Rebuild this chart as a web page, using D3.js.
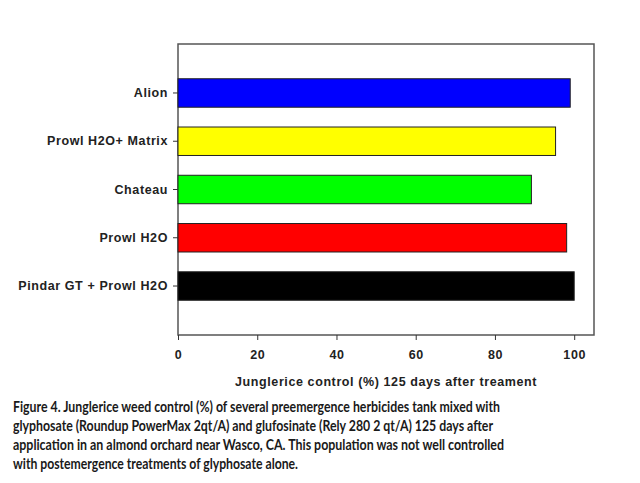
<!DOCTYPE html>
<html><head><meta charset="utf-8">
<script src="https://cdn.jsdelivr.net/npm/d3@7"></script>
<style>body{margin:0;background:#fff}svg{display:block}</style>
</head><body>
<script>
const categories = ["Alion", "Prowl H2O+ Matrix", "Chateau", "Prowl H2O", "Pindar GT  + Prowl H2O"];
const values = [99, 95.3, 89.2, 98.1, 100];
const colors = ["#0000ff", "#ffff00", "#00ff00", "#ff0000", "#000000"];
const xTicks = [0, 20, 40, 60, 80, 100];
const xTitle = "Junglerice control (%) 125 days after treament";
const captionLines = [
  "Figure 4. Junglerice weed control (%) of several preemergence herbicides tank mixed with",
  "glyphosate (Roundup PowerMax 2qt/A) and glufosinate (Rely 280 2 qt/A) 125 days after",
  "application in an almond orchard near Wasco, CA. This population was not well controlled",
  "with postemergence treatments of glyphosate alone."
];
const captionWidths = [487, 480, 491, 285];

const W = 640, H = 483;
const svg = d3.select("body").append("svg").attr("width", W).attr("height", H);
const L = 178, R = 594, T = 44, B = 335;
const x = d3.scaleLinear().domain([0, 105]).range([L, R]);
const y = d3.scaleBand().domain(categories).range([T, B]).paddingInner(0.41).paddingOuter(0.72);

// frame
svg.append("rect").attr("x", L).attr("y", T).attr("width", R - L).attr("height", B - T)
  .attr("fill", "none").attr("stroke", "#555").attr("stroke-width", 1.5);

svg.selectAll("rect.bar").data(categories).enter().append("rect").attr("class", "bar")
  .attr("x", x(0)).attr("y", d => y(d))
  .attr("width", (d, i) => x(values[i]) - x(0)).attr("height", y.bandwidth())
  .attr("fill", (d, i) => colors[i]).attr("stroke", "#222").attr("stroke-width", 1);

const fontAx = "Arial, 'Liberation Sans', sans-serif";
function styleText(sel) {
  sel.attr("font-family", fontAx).attr("font-size", 12.5).attr("font-weight", "bold")
    .attr("fill", "#222").attr("letter-spacing", 0.6);
}
const yAxis = svg.append("g").attr("transform", `translate(${L},0)`)
  .call(d3.axisLeft(y).tickSize(5).tickPadding(5));
yAxis.select(".domain").remove();
yAxis.selectAll("line").attr("stroke", "#333");
yAxis.selectAll("text").call(styleText);

const xAxis = svg.append("g").attr("transform", `translate(0,${B})`)
  .call(d3.axisBottom(x).tickValues(xTicks).tickSize(5).tickPadding(10));
xAxis.select(".domain").remove();
xAxis.selectAll("line").attr("stroke", "#333");
xAxis.selectAll("text").call(styleText);

svg.append("text").attr("x", (L + R) / 2).attr("y", 386).attr("text-anchor", "middle")
  .call(styleText).text(xTitle);

svg.selectAll("text.cap").data(captionLines).enter().append("text").attr("class", "cap")
  .attr("x", 13).attr("y", (d, i) => 412 + i * 19)
  .attr("font-family", "Lato, 'Open Sans', sans-serif").attr("font-size", 14.5).attr("font-weight", "bold")
  .attr("fill", "#1a1a1a")
  .attr("textLength", (d, i) => captionWidths[i]).attr("lengthAdjust", "spacingAndGlyphs")
  .text(d => d);
</script>
</body></html>
